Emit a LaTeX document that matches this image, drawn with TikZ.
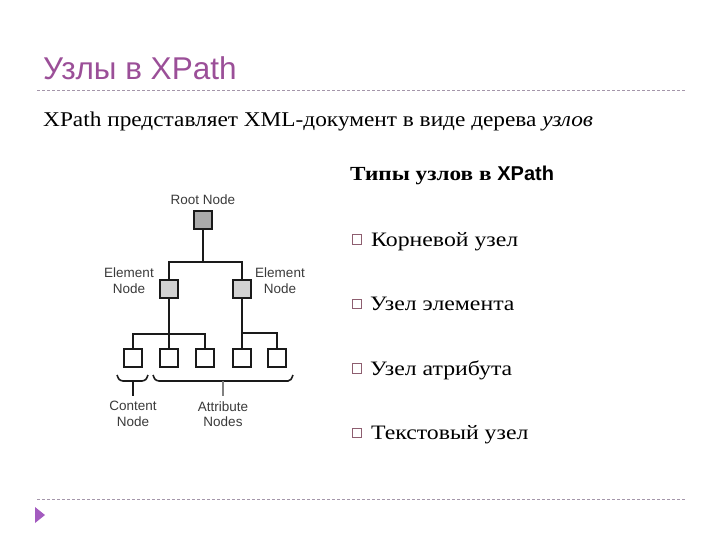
\documentclass[tikz,border=0pt]{standalone}
\usepackage{fontspec}
\setmainfont{Liberation Serif}
\setsansfont{Liberation Sans}
\newfontfamily\wideserif[FakeStretch=1.11]{Liberation Serif}
\newfontfamily\itemserif[FakeStretch=1.16]{Liberation Serif}
\newfontfamily\headserif[FakeStretch=1.16]{Liberation Serif}
\definecolor{titlec}{HTML}{9B4F98}
\definecolor{dashc}{HTML}{A496AA}
\definecolor{trianc}{HTML}{A35BBF}
\definecolor{bulc}{HTML}{8E5E70}
\definecolor{treec}{HTML}{1A1A1A}
\definecolor{labc}{HTML}{3A3A3A}
\definecolor{rootg}{HTML}{ABABAB}
\definecolor{elg}{HTML}{D2D2D2}
\tikzset{
  dashline/.style={draw=dashc, line width=0.8pt, dash pattern=on 3pt off 2pt},
  tbox/.style={draw=treec, line width=2pt, minimum size=18pt, inner sep=0pt, fill=white},
  tline/.style={draw=treec, line width=2pt},
  tlab/.style={font=\sffamily\fontsize{13.5}{15.5}\selectfont, text=labc, align=center, inner sep=0pt},
  bul/.style={draw=bulc, line width=0.7pt, minimum size=9.5pt, inner sep=0pt},
  item/.style={anchor=base west, font=\itemserif\fontsize{20.5}{24}\selectfont, inner sep=0pt},
}
\begin{document}
\begin{tikzpicture}[x=1pt,y=-1pt]
\useasboundingbox (0,0) rectangle (720,540);
% header
\node[anchor=base west, inner sep=0pt, text=titlec, font=\sffamily\fontsize{31.5}{36}\selectfont] (title) at (43,80) {Узлы в XPath};
\coordinate (d1a) at (37,90); \coordinate (d1b) at (686,90);
\draw[dashline] (d1a) -- (d1b);
\node[anchor=base west, inner sep=0pt, font=\wideserif\fontsize{21}{24}\selectfont] (sub) at (43,127) {XPath представляет XML-документ в виде дерева \textit{узлов}};
% footer
\coordinate (d2a) at (37,499); \coordinate (d2b) at (686,499);
\draw[dashline] (d2a) -- (d2b);
\fill[trianc] (35,507) -- (45,515) -- (35,523) -- cycle;
% right list
\node[anchor=base west, inner sep=0pt, font=\headserif\bfseries\fontsize{20}{23}\selectfont] (types) at (350,181) {Типы узлов в \textsf{XPath}};
\node[bul] (b1) at (357,239.5) {};
\node[item] (t1) at (371,246) {Корневой узел};
\node[bul] (b2) at (357,304) {};
\node[item] (t2) at (370,310.5) {Узел элемента};
\node[bul] (b3) at (357,368.5) {};
\node[item] (t3) at (370,375) {Узел атрибута};
\node[bul] (b4) at (357,433) {};
\node[item] (t4) at (371,439.5) {Текстовый узел};
% tree
\node[tlab] (rootl) at (203,200) {Root Node};
\node[tlab] (e1l) at (129,280.5) {Element\\Node};
\node[tlab] (e2l) at (280,280.5) {Element\\Node};
\coordinate (rc) at (202.5,220.5);
\coordinate (e1c) at (168.5,288.5);
\coordinate (e2c) at (242,288.5);
\coordinate (j1) at (202.5,262);
\coordinate (j2) at (168.5,334);
\coordinate (j3) at (242,333);
\coordinate (l1c) at (132.5,357.5);
\coordinate (l2c) at (168.5,357.5);
\coordinate (l3c) at (205,357.5);
\coordinate (l4c) at (242,357.5);
\coordinate (l5c) at (276.5,357.5);
\draw[tline] (rc) -- (j1);
\draw[tline] (j1) -| (e1c);
\draw[tline] (j1) -| (e2c);
\draw[tline] (e1c) -- (l2c);
\draw[tline] (j2) -| (l1c);
\draw[tline] (j2) -| (l3c);
\draw[tline] (e2c) -- (l4c);
\draw[tline] (j3) -| (l5c);
\node[tbox, fill=rootg] (root) at (rc) {};
\node[tbox, fill=elg] (e1) at (e1c) {};
\node[tbox, fill=elg] (e2) at (e2c) {};
\node[tbox] (l1) at (l1c) {};
\node[tbox] (l2) at (l2c) {};
\node[tbox] (l3) at (l3c) {};
\node[tbox] (l4) at (l4c) {};
\node[tbox] (l5) at (l5c) {};
% braces
\draw[tline, line width=1.6pt] (117,375) .. controls (119,380) .. (123,381) -- (142,381) .. controls (146,380) .. (148,375);
\draw[tline, line width=1.6pt] (153,375) .. controls (155,380) .. (159,381) -- (288,381) .. controls (291,380) .. (293,375);
\coordinate (s1a) at (133,381); \coordinate (s1b) at (133,396);
\coordinate (s2a) at (223,381); \coordinate (s2b) at (223,396);
\draw[draw=treec, line width=1.4pt] (s1a) -- (s1b);
\draw[draw=gray, line width=1.4pt] (s2a) -- (s2b);
\node[tlab] (cl) at (133,414) {Content\\Node};
\node[tlab] (al) at (223,414) {Attribute\\Nodes};
\end{tikzpicture}
\end{document}
